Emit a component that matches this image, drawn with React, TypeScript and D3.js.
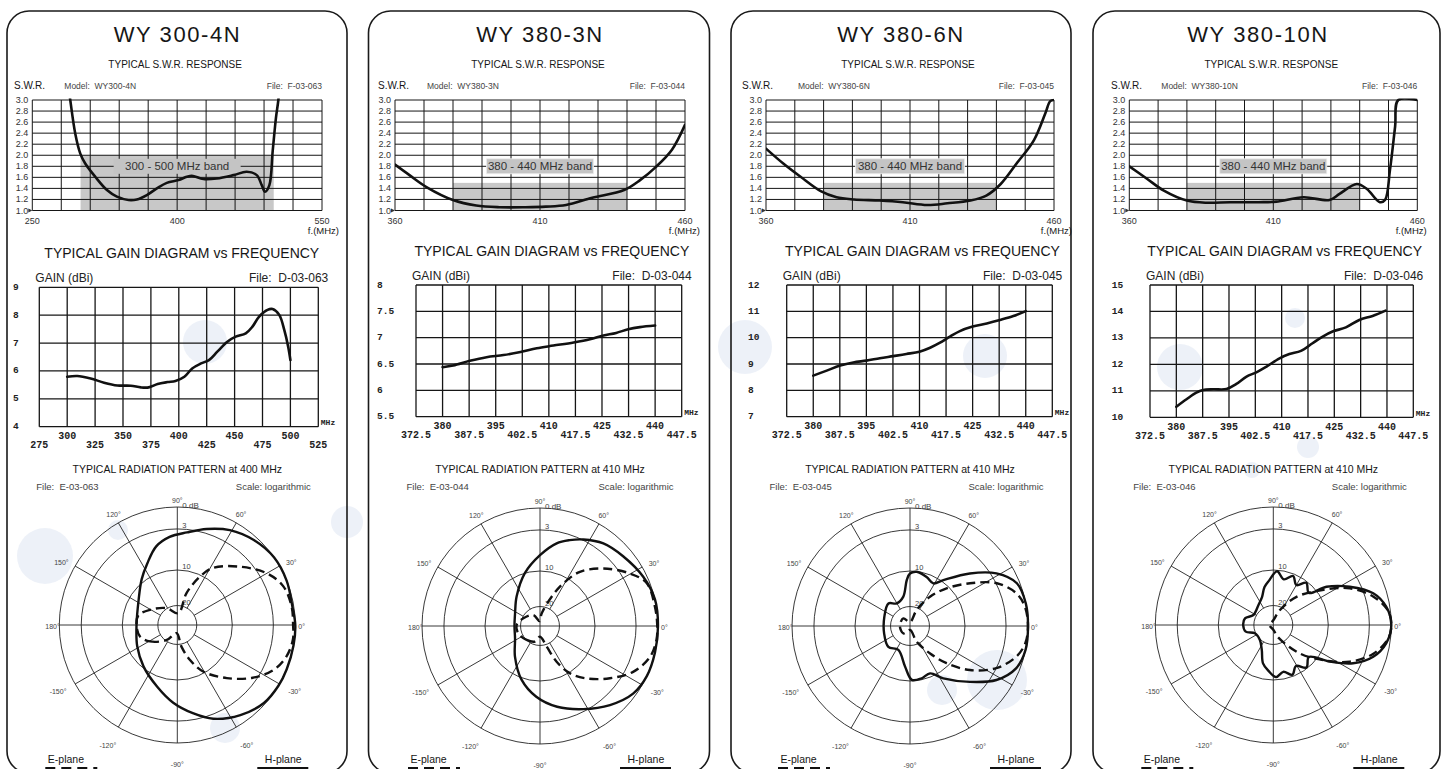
import React from "react";
import * as d3 from "d3";

type Pt = [number, number];

// ---------------- headings ----------------
const modelNames = ["WY 300-4N", "WY 380-3N", "WY 380-6N", "WY 380-10N"];
const modelCodes = ["WY300-4N", "WY380-3N", "WY380-6N", "WY380-10N"];
const swrFiles = ["F-03-063", "F-03-044", "F-03-045", "F-03-046"];
const gainFiles = ["D-03-063", "D-03-044", "D-03-045", "D-03-046"];
const patternFiles = ["E-03-063", "E-03-044", "E-03-045", "E-03-046"];
const patternFreqs = [400, 410, 410, 410];

// ---------------- S.W.R. response ----------------
const swrDomains: Pt[] = [[250, 550], [360, 460], [360, 460], [360, 460]];
const swrXLabels = [[250, 400, 550], [360, 410, 460], [360, 410, 460], [360, 410, 460]];
const swrYTicks = [1.0, 1.2, 1.4, 1.6, 1.8, 2.0, 2.2, 2.4, 2.6, 2.8, 3.0];
const bandRanges: Pt[] = [[300, 500], [380, 440], [380, 440], [380, 440]];
const bandTops = [2.0, 1.5, 1.5, 1.5];
const bandLabels = ["300 - 500 MHz band", "380 - 440 MHz band", "380 - 440 MHz band", "380 - 440 MHz band"];

const swrWY300_4N: Pt[] = [
  [287, 3.3], [289.3, 3.0], [294.5, 2.39], [299.7, 2.03], [304.8, 1.85], [315.2, 1.61], [327.3, 1.37],
  [337.6, 1.25], [349.6, 1.19], [358.3, 1.2], [368.6, 1.28], [379, 1.4], [389.3, 1.5], [401.4, 1.55],
  [410, 1.61], [415.2, 1.63], [427.2, 1.57], [441, 1.58], [458.3, 1.64], [472, 1.7], [482.4, 1.64],
  [487.6, 1.46], [491, 1.34], [495.5, 1.46], [499, 2.09], [502.4, 2.69], [504.8, 3.0], [506, 3.3],
];
const swrWY380_3N: Pt[] = [
  [360, 1.83], [365, 1.64], [371, 1.42], [380, 1.19], [388, 1.09], [396, 1.06], [405, 1.06], [412, 1.07],
  [419, 1.1], [428, 1.23], [439, 1.37], [444.5, 1.55], [450, 1.79], [455.5, 2.1], [460, 2.55],
];
const swrWY380_6N: Pt[] = [
  [360, 2.12], [366, 1.85], [372, 1.61], [379, 1.35], [384.5, 1.24], [390.5, 1.2], [399.5, 1.18],
  [407.5, 1.15], [416, 1.1], [423, 1.13], [431, 1.18], [436.5, 1.27], [441.5, 1.48], [447, 1.85],
  [453, 2.27], [457, 2.76], [458.7, 2.98], [460, 3.0],
];
const swrWY380_10N: Pt[] = [
  [360, 1.8], [366, 1.58], [372, 1.36], [380, 1.18], [387, 1.14], [395, 1.15], [405, 1.15], [411, 1.16],
  [420.5, 1.24], [429.5, 1.19], [433, 1.3], [439, 1.48], [442.5, 1.39], [447, 1.15], [448.8, 1.19],
  [450.5, 1.73], [452.3, 2.52], [453.4, 3.0], [460, 3.0],
];
const swrSeries = [swrWY300_4N, swrWY380_3N, swrWY380_6N, swrWY380_10N];

// ---------------- gain vs frequency ----------------
const gainXDomains: Pt[] = [[275, 525], [372.5, 447.5], [372.5, 447.5], [372.5, 447.5]];
const gainYDomains: Pt[] = [[4, 9], [5.5, 8], [7, 12], [10, 15]];
const gainYTicks = [[4, 5, 6, 7, 8, 9], [5.5, 6, 6.5, 7, 7.5, 8], [7, 8, 9, 10, 11, 12], [10, 11, 12, 13, 14, 15]];
const gainXTicksUpper = [
  [300, 350, 400, 450, 500], [380, 395, 410, 425, 440], [380, 395, 410, 425, 440], [380, 395, 410, 425, 440],
];
const gainXTicksLower = [
  [275, 325, 375, 425, 475, 525],
  [372.5, 387.5, 402.5, 417.5, 432.5, 447.5],
  [372.5, 387.5, 402.5, 417.5, 432.5, 447.5],
  [372.5, 387.5, 402.5, 417.5, 432.5, 447.5],
];
const gainWY300_4N: Pt[] = [
  [300, 5.79], [309, 5.82], [321, 5.73], [333, 5.58], [345, 5.48], [357, 5.47], [366, 5.41], [373, 5.41],
  [381, 5.53], [390, 5.6], [397, 5.64], [405, 5.79], [412, 6.09], [420, 6.27], [427, 6.39], [434.5, 6.69],
  [443.5, 7.05], [451, 7.23], [460, 7.35], [466, 7.59], [472, 7.95], [479.5, 8.19], [484, 8.22],
  [490, 8.01], [494.5, 7.47], [498, 6.87], [500, 6.39],
];
const gainWY380_3N: Pt[] = [
  [380, 6.44], [383, 6.47], [387.7, 6.56], [392.4, 6.63], [397.2, 6.67], [402, 6.73], [406.6, 6.8],
  [411.3, 6.85], [417, 6.91], [421.6, 6.97], [425.4, 7.04], [429, 7.09], [432.4, 7.16], [435.7, 7.2], [440, 7.23],
];
const gainWY380_6N: Pt[] = [
  [380, 8.56], [383.8, 8.75], [387.6, 8.94], [391.3, 9.06], [395, 9.13], [398.8, 9.22], [402.6, 9.3],
  [406.3, 9.38], [410, 9.47], [413, 9.62], [415.8, 9.81], [418.6, 10.04], [421.4, 10.25], [425, 10.42],
  [429, 10.54], [432.7, 10.67], [436.5, 10.82], [440, 11.01],
];
const gainWY380_10N: Pt[] = [
  [380, 10.4], [382.9, 10.68], [385.7, 10.93], [387.6, 11.03], [390.5, 11.06], [394.3, 11.07], [397.1, 11.26],
  [400, 11.54], [402.8, 11.7], [405.6, 11.91], [409.4, 12.23], [412.2, 12.39], [415.5, 12.51], [418.8, 12.8],
  [421.7, 13.05], [424.5, 13.24], [428.3, 13.4], [432.1, 13.68], [435.9, 13.83], [439.6, 14.03],
];
const gainSeries = [gainWY300_4N, gainWY380_3N, gainWY380_6N, gainWY380_10N];

// ---------------- radiation patterns: [angle deg, attenuation dB] ----------------
const hPlaneWY300_4N: Pt[] = [
  [-152, 12.7], [-129, 10.4], [-108, 8.3], [-93, 6.1], [-80, 4.1], [-69, 2.4], [-55, 1.1], [-42, 0.2],
  [-31, 0], [-22, 0], [-10, 0], [0, 0], [9, 0.2], [22, 0], [35, 0], [48, 0.5], [61, 1.3], [73, 2.4],
  [84, 3.5], [95, 4.3], [105, 5.5], [116, 7.7], [128, 9.5], [147, 12.5], [180, 14.0],
];
const ePlaneWY300_4N: Pt[] = [
  [-163, 14.5], [-149, 16.5], [-125, 20.6], [-95, 25.8], [-79, 19.2], [-70, 15.0], [-61, 10.5], [-47, 7.0],
  [-35, 3.7], [-25, 1.6], [-16, 0.6], [-7, 0.2], [0, 0.3], [9, 0.3], [20, 0.7], [30, 2.0], [43, 4.8],
  [58, 7.9], [65, 10.5], [74, 16.2], [85, 23.9], [123, 19.8], [151, 16.7], [166, 14.2], [180, 14.0],
];
const hPlaneWY380_3N: Pt[] = [
  [-153, 17.6], [-129, 14.3], [-109, 9.7], [-93, 7.3], [-78, 5.3], [-62.5, 3.4], [-48.5, 1.7], [-36, 0.4],
  [-25, 0], [-13, 0], [0, 0], [13, 0], [25.5, 0.5], [40, 1.3], [52.5, 1.9], [63.4, 2.9], [71, 3.9],
  [78.6, 5.0], [90, 7.3], [106, 10.0], [128.5, 14.9], [153, 17.6], [180, 18.3],
];
const ePlaneWY380_3N: Pt[] = [
  [-161, 19.0], [-134, 20.1], [-108, 21.6], [-90, 24.5], [-72, 19.4], [-65, 14.4], [-57.6, 9.8], [-48.3, 7.4],
  [-36.8, 4.5], [-26, 1.9], [-15.6, 0.5], [-6.8, 0.1], [0, 0.1], [9.5, 0.2], [21.8, 0.4], [30.3, 1.9],
  [42.3, 4.8], [53.6, 7.9], [61.3, 11.8], [68.3, 16.6], [82.5, 23.5], [95, 27.5], [121, 23.4], [155, 20.6],
  [177.5, 18.9],
];
const hPlaneWY380_6N: Pt[] = [
  [-164, 17.9], [-136, 17.0], [-116, 18.0], [-97, 14.0], [-88, 10.3], [-77.4, 10.4], [-67, 11.0],
  [-57.5, 8.8], [-43, 5.4], [-32, 2.2], [-21.6, 0.5], [-11.7, 0], [0, 0], [11, 0], [21.8, 0.4], [31.3, 2.3],
  [41.3, 5.8], [54, 9.7], [61.3, 11.8], [71.3, 10.9], [83, 10.1], [90, 10.7], [94, 12.5], [102.8, 17.0],
  [120.5, 18.1], [133.7, 16.7], [160, 17.8],
];
const ePlaneWY380_6N: Pt[] = [
  [-132, 24.9], [-90, 28], [-67, 21.3], [-53.8, 15.9], [-45.5, 10.8], [-36.3, 6.7], [-26, 3.0], [-16, 1.0],
  [-8.6, 0.2], [0, 0], [9.5, 0.2], [17, 0.9], [26.2, 2.9], [35.4, 6.8], [45.8, 10.7], [55.7, 15.5],
  [67.4, 21.1], [90, 28], [131, 24.8], [180, 24.8],
];
const hPlaneWY380_10N: Pt[] = [
  [-166.5, 17.5], [-155.6, 19.8], [-131.6, 19.8], [-115, 17.8], [-105, 14.3], [-96, 12.5], [-87, 10.8],
  [-78, 12.0], [-69, 10.5], [-61, 12.3], [-52, 10.3], [-42, 12.0], [-33, 7.9], [-25.6, 4.3], [-17.6, 1.8],
  [-9.2, 0.5], [0, 0], [9.2, 0.5], [17.6, 1.8], [26.6, 4.8], [35.7, 8.2], [42, 12.0], [52, 10.4],
  [60, 12.5], [68, 10.6], [77, 12.3], [86, 10.3], [95, 12.8], [103, 14.5], [112, 17.0], [127, 18.5],
  [153.4, 19.2], [166.8, 17.3], [180, 17.0],
];
const ePlaneWY380_10N: Pt[] = [
  [-90, 27.6], [-68, 23.0], [-47, 14.5], [-35, 8.9], [-25.6, 4.9], [-16, 1.9], [-6.6, 0.3], [0, 0],
  [7, 0.3], [15.8, 1.9], [25.6, 4.9], [35, 8.9], [50.5, 15.2], [66, 21.6], [90, 27.6], [180, 28],
];
const hPlaneSeries = [hPlaneWY300_4N, hPlaneWY380_3N, hPlaneWY380_6N, hPlaneWY380_10N];
const ePlaneSeries = [ePlaneWY300_4N, ePlaneWY380_3N, ePlaneWY380_6N, ePlaneWY380_10N];

const ringLevels = [0, 3, 10, 20];
const ringLabels = ["0 dB", "3", "10", "20"];
const spokeAngles = d3.range(0, 360, 30);

// ---------------- layout (positions / scale geometry) ----------------
const SWR_TOP = 100;
const SWR_BOTTOM = 210.5;
const POLAR_R = 118;
const polarDbStops = [0, 3, 10, 20, 30];
const polarRadiusFractions = [1, 0.814, 0.466, 0.165, 0];

const layouts = [
  { box: [7, 347], titleX: 177.5, swr: [32.3, 322], swrLabelX: 14, fmhzDx: 17, bandPad: 11.5,
    gain: [39.3, 318.3, 287.3, 426.7], gainYLabelX: 13, polar: [177.3, 625], fileDx: -141 },
  { box: [368.5, 709.5], titleX: 540, swr: [395, 685], swrLabelX: 378, fmhzDx: 15, bandPad: 1.5,
    gain: [416, 681.7, 285, 416.7], gainYLabelX: 377, polar: [540, 626], fileDx: -133.5 },
  { box: [731, 1071], titleX: 901, swr: [766, 1054], swrLabelX: 742, fmhzDx: 18, bandPad: 2.5,
    gain: [786.7, 1052.3, 285, 416.7], gainYLabelX: 748, polar: [910, 626], fileDx: -140.5 },
  { box: [1093, 1440], titleX: 1258, swr: [1129.3, 1417.3], swrLabelX: 1111, fmhzDx: 9.5, bandPad: 1.5,
    gain: [1150, 1413.3, 285, 417.3], gainYLabelX: 1111.7, polar: [1273.3, 625], fileDx: -140 },
];

const bgCircles = [
  [45, 556, 28], [347, 522, 16], [118, 530, 10], [225, 728, 15], [205, 342, 22],
  [745, 347, 27], [985, 356, 22], [997, 680, 30], [942, 690, 15], [1180, 367, 23],
  [1295, 318, 10], [1308, 447, 11], [1252, 470, 8],
];

const SANS = "'Liberation Sans', Arial, Helvetica, sans-serif";
const MONO = "'Liberation Mono', 'Courier New', monospace";
const INK = "#161616";

function SwrChart({ i }: { i: number }) {
  const L = layouts[i];
  const [l, r] = L.swr;
  const dom = swrDomains[i];
  const x = d3.scaleLinear().domain(dom).range([l, r]);
  const y = d3.scaleLinear().domain([1, 3]).range([SWR_BOTTOM, SWR_TOP]);
  const xGrid = d3.range(11).map((k) => dom[0] + (k * (dom[1] - dom[0])) / 10);
  const line = d3.line<Pt>().x((d) => x(d[0])).y((d) => y(d[1])).curve(d3.curveCatmullRom.alpha(0.5));
  const [b0, b1] = bandRanges[i];
  const mid = (l + r) / 2;
  const labelW = 104 + 2 * L.bandPad;
  const clipId = `swr-clip-${i}`;
  const fmt = d3.format(".1f");
  return (
    <g>
      <text x={mid - 2} y={68} textAnchor="middle" fontSize={10} fill={INK}>TYPICAL S.W.R. RESPONSE</text>
      <text x={L.swrLabelX} y={89} fontSize={10} fill={INK}>S.W.R.</text>
      <text x={l + 32} y={89} fontSize={8.5} fill="#444" style={{ whiteSpace: "pre" }}>{`Model:  ${modelCodes[i]}`}</text>
      <text x={r} y={89} fontSize={8.5} fill="#444" textAnchor="end" style={{ whiteSpace: "pre" }}>{`File:  ${swrFiles[i]}`}</text>
      <rect x={x(b0)} y={y(bandTops[i])} width={x(b1) - x(b0)} height={y(1) - y(bandTops[i])} fill="#c8c8c8" />
      {xGrid.map((v, k) => (
        <line key={"vx" + k} x1={x(v)} x2={x(v)} y1={SWR_TOP} y2={SWR_BOTTOM} stroke={INK} strokeWidth={1} />
      ))}
      {swrYTicks.map((v, k) => (
        <line key={"hy" + k} x1={l} x2={r} y1={y(v)} y2={y(v)} stroke={INK} strokeWidth={1} />
      ))}
      <rect x={mid - labelW / 2} y={y(1.8) - 7.5} width={labelW} height={15} fill="#c4c4c4" stroke={i === 0 ? "none" : "#eee"} strokeWidth={0.8} />
      <text x={mid} y={y(1.8)} dominantBaseline="central" textAnchor="middle" fontSize={11.5} fill="#333">{bandLabels[i]}</text>
      <defs>
        <clipPath id={clipId}>
          <rect x={l} y={SWR_TOP - 1.5} width={r - l} height={SWR_BOTTOM - SWR_TOP + 1.5} />
        </clipPath>
      </defs>
      <path d={line(swrSeries[i]) || ""} fill="none" stroke="#111" strokeWidth={2.6} strokeLinejoin="round" strokeLinecap="round" clipPath={`url(#${clipId})`} />
      {swrYTicks.map((v, k) => (
        <text key={"yl" + k} x={l - 4} y={y(v)} dominantBaseline="central" textAnchor="end" fontSize={9} fill="#333">{fmt(v)}</text>
      ))}
      <path d={`M${l - 4},${y(1) - 2}L${l},${y(1)}L${l - 4},${y(1) + 2}Z`} fill="#333" />
      {swrXLabels[i].map((v, k) => (
        <text key={"xl" + k} x={x(v)} y={SWR_BOTTOM + 13.5} textAnchor="middle" fontSize={9} fill="#333">{v}</text>
      ))}
      <text x={r + L.fmhzDx} y={SWR_BOTTOM + 23} textAnchor="end" fontSize={9.5} fill={INK}>f.(MHz)</text>
    </g>
  );
}

function GainChart({ i }: { i: number }) {
  const L = layouts[i];
  const [l, r, t, b] = L.gain;
  const xd = gainXDomains[i];
  const yd = gainYDomains[i];
  const x = d3.scaleLinear().domain(xd).range([l, r]);
  const y = d3.scaleLinear().domain(yd).range([b, t]);
  const xGrid = d3.range(11).map((k) => xd[0] + (k * (xd[1] - xd[0])) / 10);
  const line = d3.line<Pt>().x((d) => x(d[0])).y((d) => y(d[1])).curve(d3.curveCatmullRom.alpha(0.5));
  return (
    <g>
      <text x={(l + r) / 2 + 3} y={t - 29} textAnchor="middle" fontSize={14} fill={INK}>TYPICAL GAIN DIAGRAM vs FREQUENCY</text>
      <text x={l - 4} y={t - 5} fontSize={12} fill="#222">GAIN (dBi)</text>
      <text x={r + 10} y={t - 5} fontSize={12} fill="#222" textAnchor="end" style={{ whiteSpace: "pre" }}>{`File:  ${gainFiles[i]}`}</text>
      {xGrid.map((v, k) => (
        <line key={"gx" + k} x1={x(v)} x2={x(v)} y1={t} y2={b} stroke={INK} strokeWidth={1.3} />
      ))}
      {gainYTicks[i].map((v, k) => (
        <line key={"gy" + k} x1={l} x2={r} y1={y(v)} y2={y(v)} stroke={INK} strokeWidth={1.3} />
      ))}
      <path d={line(gainSeries[i]) || ""} fill="none" stroke="#111" strokeWidth={2.6} strokeLinejoin="round" strokeLinecap="round" />
      {gainYTicks[i].map((v, k) => (
        <text key={"gyl" + k} x={L.gainYLabelX} y={y(v)} dominantBaseline="central" fontFamily={MONO} fontWeight="bold" fontSize={9.5} fill="#222">{String(v)}</text>
      ))}
      {gainXTicksUpper[i].map((v, k) => (
        <text key={"gxu" + k} x={x(v)} y={b + 12.5} textAnchor="middle" fontFamily={MONO} fontWeight="bold" fontSize={10} fill="#222">{String(v)}</text>
      ))}
      {gainXTicksLower[i].map((v, k) => (
        <text key={"gxl" + k} x={x(v)} y={b + 21.5} textAnchor="middle" fontFamily={MONO} fontWeight="bold" fontSize={10} fill="#222">{String(v)}</text>
      ))}
      <text x={r + 2.5} y={b - 1.5} fontFamily={MONO} fontWeight="bold" fontSize={8} fill="#222">MHz</text>
    </g>
  );
}

function PolarChart({ i }: { i: number }) {
  const L = layouts[i];
  const [cx, cy] = L.polar;
  const R = POLAR_R;
  const rScale = d3.scaleLinear().domain(polarDbStops).range(polarRadiusFractions.map((f) => f * R)).clamp(true);
  const radial = d3
    .lineRadial<Pt>()
    .angle((d) => ((90 - d[0]) * Math.PI) / 180)
    .radius((d) => rScale(d[1]))
    .curve(d3.curveCatmullRomClosed.alpha(0.5));
  const inner = rScale(20);
  const labels = spokeAngles.filter((a) => a !== 90).map((a) => {
    const rad = (a * Math.PI) / 180;
    const c = Math.cos(rad);
    const s = Math.sin(rad);
    const txt = `${a > 180 ? a - 360 : a}°`;
    if (a === 0) return { x: cx + R + 3, y: cy + 1.5, anchor: "start", txt };
    if (a === 180) return { x: cx - R + 0.5, y: cy + 1, anchor: "end", txt };
    if (Math.abs(c) > 0.8) {
      const d = s > 0 ? 7.5 : 10;
      return { x: cx + (R + d) * c, y: cy - (R + d) * s + (s < 0 ? 2 : 0), anchor: c > 0 ? "start" : "end", txt };
    }
    const d = s > 0 ? 9.5 : 21;
    return { x: cx + (R + d) * c, y: cy - (R + d) * s, anchor: "middle", txt };
  });
  return (
    <g>
      <text x={cx} y={473.3} textAnchor="middle" fontSize={10.5} fill={INK}>{`TYPICAL RADIATION PATTERN at ${patternFreqs[i]} MHz`}</text>
      <text x={cx + L.fileDx} y={490} fontSize={9.5} fill="#444" style={{ whiteSpace: "pre" }}>{`File:  ${patternFiles[i]}`}</text>
      <text x={cx + 133.5} y={490} fontSize={9.5} fill="#444" textAnchor="end">Scale: logarithmic</text>
      {ringLevels.map((lv, k) => (
        <circle key={"ring" + k} cx={cx} cy={cy} r={rScale(lv)} fill="none" stroke="#222" strokeWidth={0.9} />
      ))}
      {spokeAngles.map((a, k) => {
        const rad = (a * Math.PI) / 180;
        const r0 = a % 90 === 0 ? 0 : inner;
        return (
          <line key={"sp" + k} x1={cx + r0 * Math.cos(rad)} y1={cy - r0 * Math.sin(rad)} x2={cx + R * Math.cos(rad)} y2={cy - R * Math.sin(rad)} stroke="#222" strokeWidth={0.9} />
        );
      })}
      {labels.map((lb, k) => (
        <text key={"al" + k} x={lb.x} y={lb.y} textAnchor={lb.anchor as any} dominantBaseline="central" fontSize={7} fill="#444">{lb.txt}</text>
      ))}
      <text x={cx} y={cy - R - 4} textAnchor="middle" fontSize={7} fill="#444">90°</text>
      {ringLevels.map((lv, k) => (
        <text key={"rl" + k} x={cx + 5} y={cy - rScale(lv) - (k === 0 ? -0.5 : 0.8)} fontSize={k === 0 ? 8 : 7.5} fill="#444">{ringLabels[k]}</text>
      ))}
      <g transform={`translate(${cx},${cy})`}>
        <path d={radial(hPlaneSeries[i]) || ""} fill="none" stroke="#111" strokeWidth={2.4} strokeLinejoin="round" />
        <path d={radial(ePlaneSeries[i]) || ""} fill="none" stroke="#111" strokeWidth={2.4} strokeDasharray="9,5" />
      </g>
      <text x={cx - 129.5} y={762.5} fontSize={10.5} fill={INK}>E-plane</text>
      <line x1={cx - 132} x2={cx - 80} y1={769} y2={769} stroke="#111" strokeWidth={4} strokeDasharray="10,6" />
      <text x={cx + 87.5} y={762.5} fontSize={10.5} fill={INK}>H-plane</text>
      <line x1={cx + 80} x2={cx + 131} y1={769} y2={769} stroke="#111" strokeWidth={4} />
    </g>
  );
}

function Panel({ i }: { i: number }) {
  const L = layouts[i];
  return (
    <g>
      <rect x={L.box[0]} y={11} width={L.box[1] - L.box[0]} height={762} rx={22} ry={22} fill="none" stroke="#1a1a1a" strokeWidth={1.6} />
      <text x={L.titleX} y={41.5} textAnchor="middle" fontSize={22} letterSpacing={1.6} fill={INK}>{modelNames[i]}</text>
      <SwrChart i={i} />
      <GainChart i={i} />
      <PolarChart i={i} />
    </g>
  );
}

export default function App() {
  return (
    <svg width={1446} height={769} style={{ position: "absolute", left: 0, top: 0, display: "block" }} fontFamily={SANS}>
      <rect width={1446} height={769} fill="#ffffff" />
      {bgCircles.map((c, k) => (
        <circle key={"bg" + k} cx={c[0]} cy={c[1]} r={c[2]} fill="#dfe6f2" opacity={0.55} />
      ))}
      {layouts.map((_, i) => (
        <Panel key={i} i={i} />
      ))}
    </svg>
  );
}
